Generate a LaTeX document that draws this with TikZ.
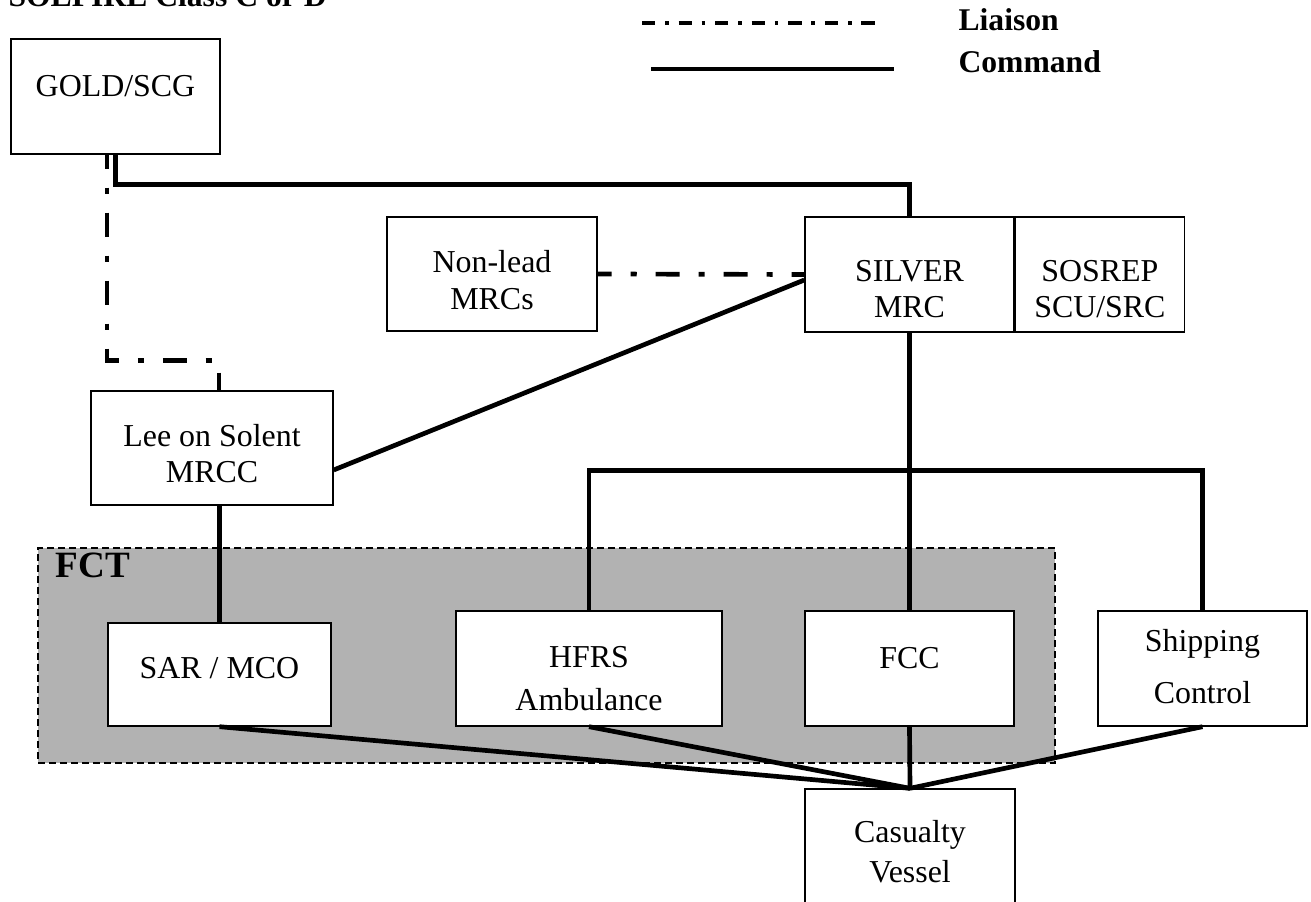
\documentclass[tikz,border=0pt]{standalone}
\usepackage{fontspec}
\setmainfont{Liberation Serif}
\usetikzlibrary{positioning, calc}

\newcommand\pxl{0.3636pt}

\begin{document}
\begin{tikzpicture}[
    x=0.3636pt, y=-0.3636pt,
    % Styles
    box/.style={ % Organisation box
        rectangle,
        draw,
        fill=white,
        line width=0.5pt,
        inner sep=0pt
    },
    boxsize/.style 2 args={ % Box size in pixels
        minimum width=#1*\pxl,
        minimum height=#2*\pxl
    },
    txt/.style={ % Text inside a box (base = last line)
        anchor=base,
        align=center,
        inner sep=0pt,
        font=\fontsize{11.6}{13.1}\selectfont
    },
    head/.style={ % Bold headings
        anchor=base west,
        inner sep=0pt,
        font=\fontsize{11.5}{14}\selectfont\bfseries
    },
    command/.style={ % Command lines
        line width=1.7pt
    },
    liaison/.style={ % Liaison lines
        line width=1.7pt,
        dash pattern=on 8.7pt off 6.9pt on 2.2pt off 6.9pt,
        dash phase=3.6pt
    },
    team/.style={ % Shaded FCT area
        rectangle,
        draw,
        fill=black!30,
        line width=0.4pt,
        dash pattern=on 2.5pt off 1.5pt,
        inner sep=0pt
    }
]
    \useasboundingbox (0,0) rectangle (1311,902);

    % Title and legend
    \node[head] (title) at (8,7) {SOLFIRE Class C or D};
    \coordinate (liaisonA) at (642,23);
    \coordinate (liaisonB) at (878,23);
    \coordinate (commandA) at (651,69);
    \coordinate (commandB) at (894,69);
    \draw[line width=1.1pt, dash pattern=on 4.8pt off 3.6pt on 1.3pt off 3.6pt]
        (liaisonA) -- (liaisonB);
    \draw[line width=1.1pt] (commandA) -- (commandB);
    \node[head] (liaisonlabel) at (958,31) {Liaison};
    \node[head] (commandlabel) at (958,73) {Command};

    % FCT area
    \node[team, boxsize={1017}{215}] (fct) at (546.5,655.5) {};
    \node[head, font=\fontsize{13.5}{16}\selectfont\bfseries] (fctlabel) at (55,578) {FCT};

    % Boxes
    \node[box, boxsize={209}{115}] (gold) at (115.5,96.5) {};
    \node[box, boxsize={210}{114}] (nonlead) at (492,274) {};
    \node[box, boxsize={209}{115}] (silver) at (909.5,274.5) {};
    \node[box, boxsize={169}{115}, right=0pt of silver] (sosrep) {};
    \node[box, boxsize={242}{114}] (lee) at (212,448) {};
    \node[box, boxsize={223}{103}] (sar) at (219.5,674.5) {};
    \node[box, boxsize={266}{115}] (hfrs) at (589,668.5) {};
    \node[box, boxsize={209}{115}] (fcc) at (909.5,668.5) {};
    \node[box, boxsize={209}{115}] (ship) at (1202.5,668.5) {};
    \node[box, boxsize={210}{115}] (casualty) at (910,846.5) {};

    % Box texts
    \node[txt] (goldtext) at (115.5,97) {GOLD/SCG};
    \node[txt] (nonleadtext) at (492,310) {Non-lead\\[0.7pt]MRCs};
    \node[txt] (silvertext) at (909.5,318) {SILVER\\MRC};
    \node[txt] (sosreptext) at (sosrep.center |- silvertext.base) {SOSREP\\SCU/SRC};
    \node[txt] (leetext) at (212,483) {Lee on Solent\\MRCC};
    \node[txt] (sartext) at (219.5,678) {SAR / MCO};
    \node[txt] (hfrstext) at (589,710) {HFRS\\[2.5pt]Ambulance};
    \node[txt] (fcctext) at (909.5,668) {FCC};
    \node[txt] (shiptext) at (1202.5,703) {Shipping\\[5.8pt]Control};
    \node[txt] (casualtytext) at (910,882) {Casualty\\[1.1pt]Vessel};

    % Liaison lines
    \draw[liaison] ([xshift=-3.1pt]gold.south) -- ++(0,206) -| ([xshift=2.5pt]lee.north);
    \draw[liaison] (nonlead.east) -- (silver.west);

    % Command lines
    \draw[command] (gold.south) -- ++(0,30) -| (silver.north);
    \draw[command] ([yshift=-8pt]lee.east) -- ([yshift=-2pt]silver.west);
    \draw[command] (silver.south) -- (fcc.north);
    \draw[command] (hfrs.north) -- ++(0,-140) -| (ship.north);
    \draw[command] (sar.north |- lee.south) -- (sar.north);

    % Lines to the casualty
    \foreach \X in {sar, hfrs, fcc, ship} {
        \draw[command] (\X.south) -- (casualty.north);
    }

\end{tikzpicture}
\end{document}
